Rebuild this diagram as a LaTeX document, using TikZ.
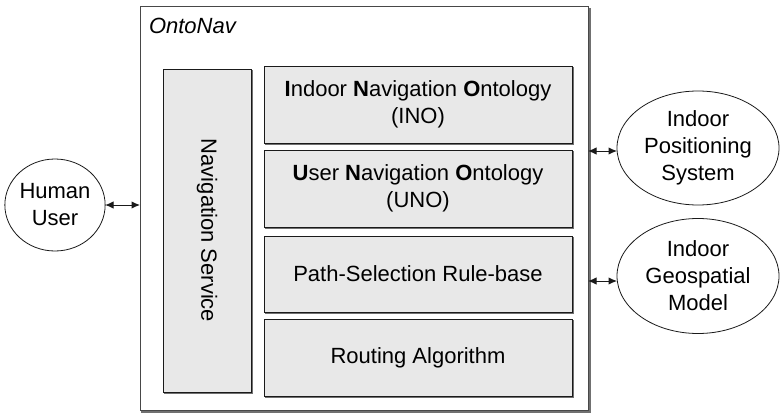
\documentclass[tikz,border=0pt]{standalone}
\usepackage{fontspec}
\setmainfont{Liberation Sans}
\usetikzlibrary{arrows.meta,shapes.geometric}
\definecolor{boxfill}{HTML}{E8E8E8}
\definecolor{edgeline}{HTML}{1A1A1A}
\definecolor{shade}{HTML}{707070}

\begin{document}
\begin{tikzpicture}[x=1pt,y=-1pt,
  every node/.style={font=\fontsize{22}{27}\selectfont, text=black, inner sep=0pt, outer sep=0pt},
  container/.style={rectangle, anchor=north west, draw=edgeline!80, line width=1pt, fill=white,
     preaction={draw=shade, line width=2.5pt, transform canvas={shift={(2pt,-2pt)}}}},
  module/.style={rectangle, anchor=north west, align=center, draw=edgeline, line width=1pt, fill=boxfill,
     preaction={draw=shade, line width=1pt, transform canvas={shift={(1pt,-1pt)}}}},
  actor/.style={ellipse, align=center, draw=edgeline, line width=0.8pt, fill=white},
  link/.style={draw=edgeline, line width=1pt, {Latex[length=8.5pt,width=7.5pt]}-{Latex[length=8.5pt,width=7.5pt]}}
]
\useasboundingbox (0,0) rectangle (781,412);

% OntoNav system frame
\node[container, minimum width=448pt, minimum height=403pt] (outer) at (140,7) {};
\node[anchor=base west, font=\fontsize{22}{27}\selectfont\itshape] (title) at (149,34) {OntoNav};

% navigation service column
\node[module, minimum width=88pt, minimum height=323pt] (nav) at (163,69) {};
\node[rotate=-90] (navlabel) at (nav.center) {Navigation Service};

% knowledge and routing modules
\node[module, minimum width=308pt, minimum height=77pt] (ino) at (264,66)
  {\textbf{I}ndoor \textbf{N}avigation \textbf{O}ntology\\(INO)};
\node[module, minimum width=308pt, minimum height=77pt] (uno) at (264,150)
  {\textbf{U}ser \textbf{N}avigation \textbf{O}ntology\\(UNO)};
\node[module, minimum width=308pt, minimum height=76pt] (psr) at (264,236)
  {Path-Selection Rule-base};
\node[module, minimum width=308pt, minimum height=77pt] (ra) at (264,319)
  {Routing Algorithm};

% external actors
\node[actor, minimum width=86pt, minimum height=92pt] (human) at (55,205) {Human\\User};
\node[actor, minimum width=162pt, minimum height=114pt] (ips) at (698,148) {Indoor\\Positioning\\System};
\node[actor, minimum width=162pt, minimum height=115pt] (igm) at (698,276) {Indoor\\Geospatial\\Model};

% connections
\draw[link] (human.east) -- (human.east -| outer.west);
\draw[link] ([yshift=-3pt]ips.west -| outer.east) -- ([yshift=-3pt]ips.west);
\draw[link] ([yshift=-5pt]igm.west -| outer.east) -- ([yshift=-5pt]igm.west);
\end{tikzpicture}
\end{document}
